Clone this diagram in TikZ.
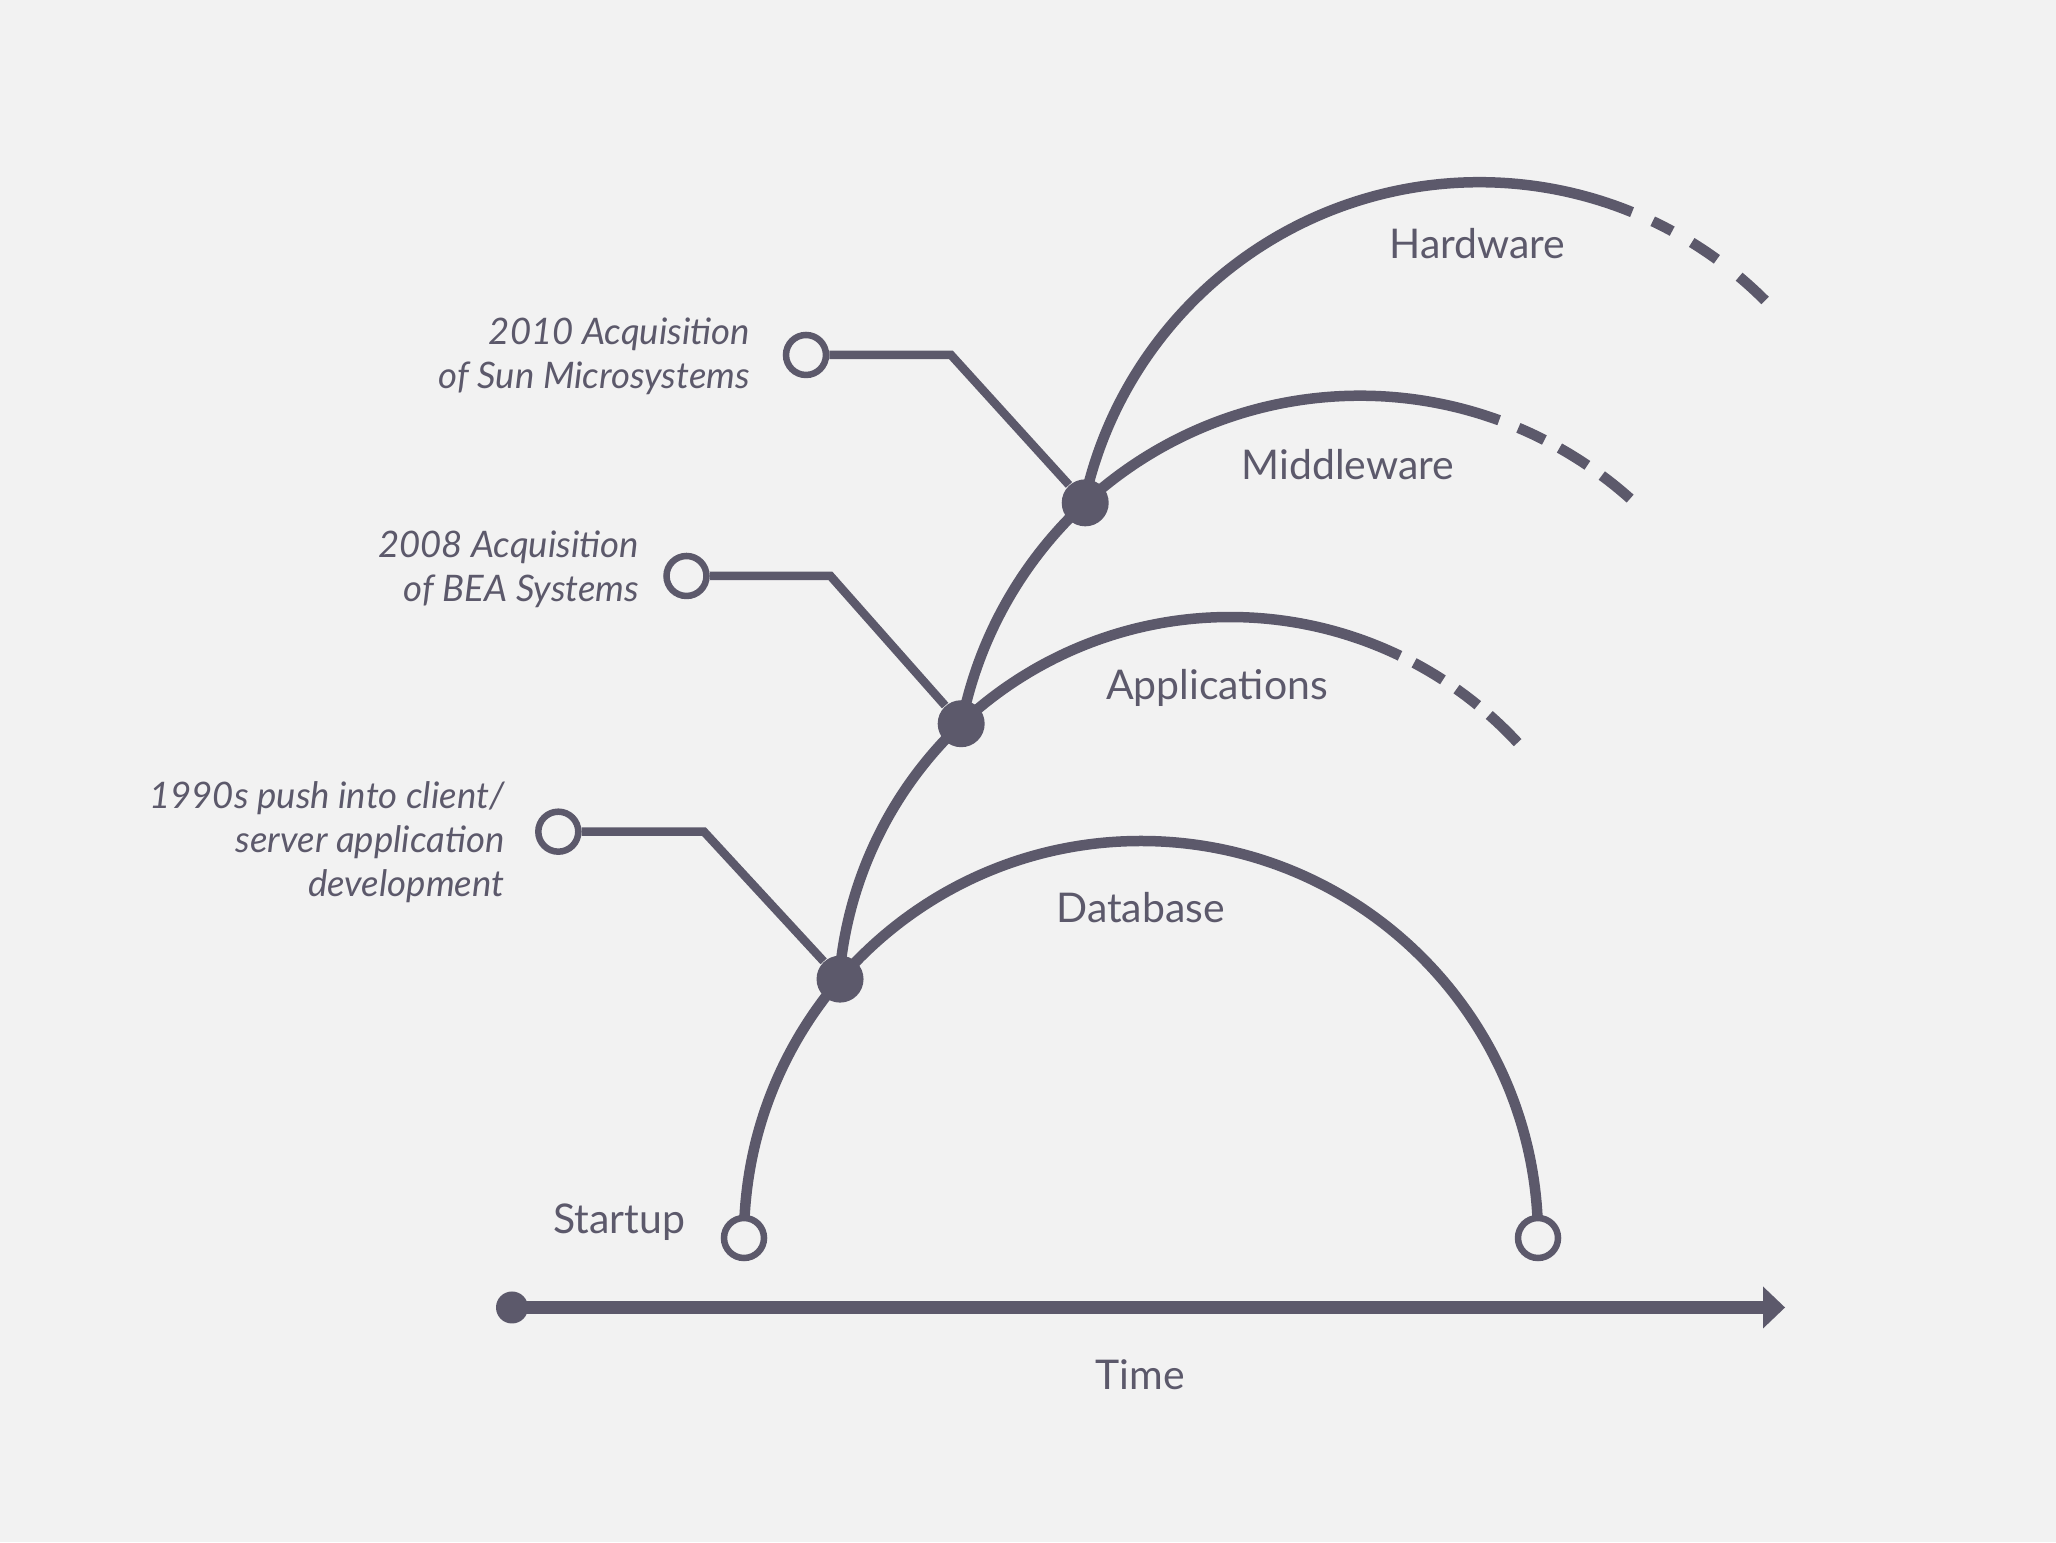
\documentclass[tikz,border=0pt]{standalone}
\usepackage{fontspec}
\setmainfont{Lato}
\usepackage{tikz}
\usetikzlibrary{arrows.meta}
\definecolor{slate}{HTML}{5C596B}
\definecolor{paper}{HTML}{F2F2F2}

\begin{document}
\begin{tikzpicture}[
  curve/.style={slate, line width=0.105cm},
  leader/.style={slate, line width=0.085cm},
  ring/.style={circle, draw=slate, fill=paper, line width=0.065cm, minimum size=0.4cm, inner sep=0},
  dot/.style={circle, fill=slate, minimum size=0.47cm, inner sep=0},
  era/.style={slate, font=\fontsize{11.65}{14}\selectfont, anchor=base, inner sep=0},
  note/.style={slate, font=\fontsize{10.4}{12.5}\selectfont\itshape, align=right, anchor=base east, inner sep=0}
]
\fill [paper] (0,0) rectangle (20.56,15.42);

\coordinate (cDB) at (11.41,3.04);
\coordinate (cAP) at (12.30,5.33);
\coordinate (cMW) at (13.60,7.403);
\coordinate (cHW) at (14.794,9.558);

\draw [curve] (cDB) ++(180:3.97) arc [start angle=180, end angle=0, radius=3.97];

\draw [curve] (cAP) ++(175.5:3.92) arc [start angle=175.5, end angle=64.3, radius=3.92];
\foreach \a/\b in {62.0/57.1, 54.7/50.8, 48.6/42.8}
\draw [curve] (cAP) ++(\a:3.92) arc [start angle=\a, end angle=\b, radius=3.92];

\draw [curve] (cMW) ++(168.96:4.06) arc [start angle=168.96, end angle=69.96, radius=4.06];
\foreach \a/\b in {67.04/62.99, 60.58/55.94, 53.45/48.29}
\draw [curve] (cMW) ++(\a:4.06) arc [start angle=\a, end angle=\b, radius=4.06];

\draw [curve] (cHW) ++(167.98:4.04) arc [start angle=167.98, end angle=67.8, radius=4.04];
\foreach \a/\b in {64.6/61.5, 58.3/54.0, 50.0/45.0}
\draw [curve] (cHW) ++(\a:4.04) arc [start angle=\a, end angle=\b, radius=4.04];

\path (cDB) ++(139.3:3.97) node [dot] (dDB) {};
\path (cAP) ++(133.3:3.92) node [dot] (dAP) {};
\path (cMW) ++(132.6:4.06) node [dot] (dMW) {};

\node [ring] (sUp) at (7.44,3.04) {};
\node [ring] (sEnd) at (15.38,3.04) {};

\node [ring] (r1990) at (5.583,7.103) {};
\node [ring] (r2008) at (6.865,9.66) {};
\node [ring] (r2010) at (8.06,11.87) {};
\coordinate (k1990) at (7.04,7.103);
\coordinate (k2008) at (8.305,9.66);
\coordinate (k2010) at (9.51,11.87);

\draw [leader] (r1990) -- (k1990) -- (dDB);
\draw [leader] (r2008) -- (k2008) -- (dAP);
\draw [leader] (r2010) -- (k2010) -- (dMW);

\node [note] (n1990) at (5.05,6.453) {1990s push into client/\\server application\\development};
\node [note] (n2008) at (6.397,9.403) {2008 Acquisition\\of BEA Systems};
\node [note] (n2010) at (7.505,11.537) {2010 Acquisition\\of Sun Microsystems};

\node [era] (lHW) at (14.775,12.837) {Hardware};
\node [era] (lMW) at (13.48,10.62) {Middleware};
\node [era] (lAP) at (12.17,8.42) {Applications};
\node [era] (lDB) at (11.405,6.197) {Database};
\node [era] (lSU) at (6.19,3.08) {Startup};

\node [circle, fill=slate, minimum size=0.32cm, inner sep=0] (t0) at (5.12,2.345) {};
\coordinate (t1) at (17.85,2.345);
\draw [slate, line width=0.13cm, -{Triangle[length=0.22cm, width=0.42cm, line width=0pt]}] (t0.center) -- (t1);
\node [era] (lT) at (11.40,1.52) {Time};
\end{tikzpicture}
\end{document}
